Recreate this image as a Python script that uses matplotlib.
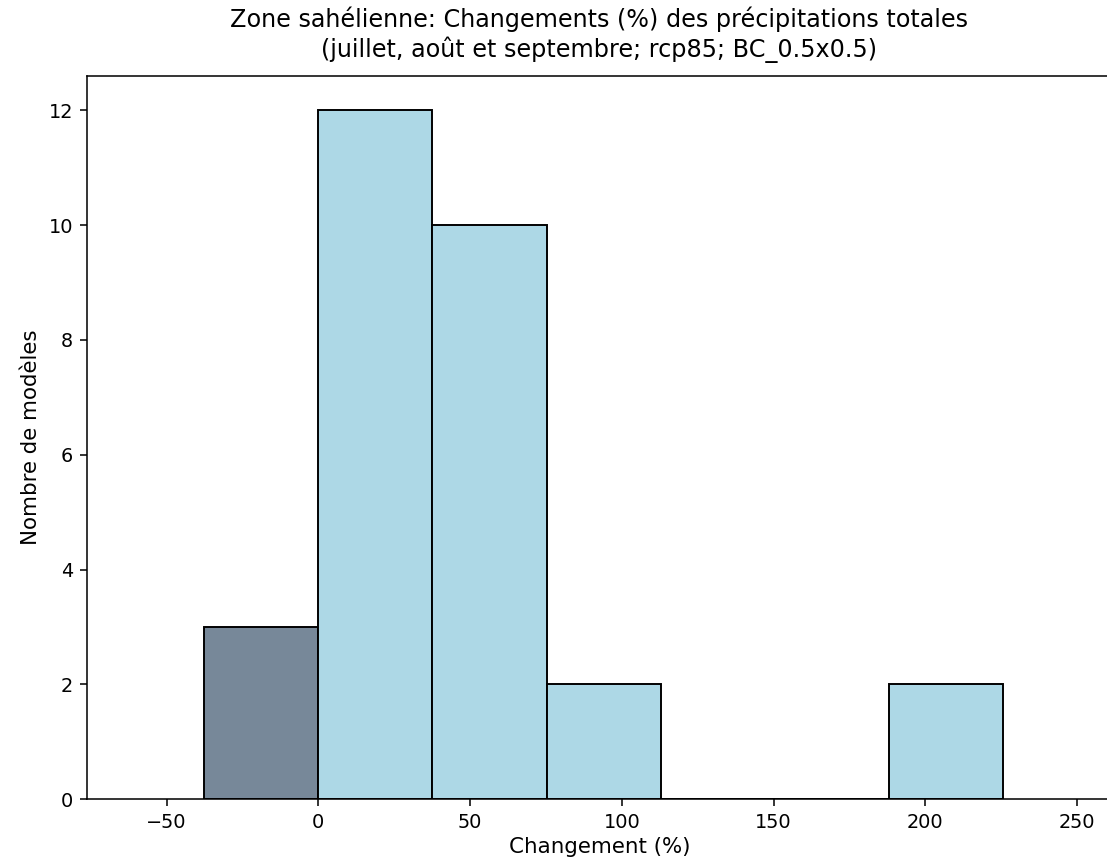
import matplotlib
matplotlib.use('Agg')
import matplotlib.pyplot as plt
import numpy as np

# bin edges (%) and number of models in each bin
bin_edges = [-37.6, 0.0, 37.6, 75.2, 112.8, 150.4, 188.0, 225.6]
counts = [3, 12, 10, 2, 0, 0, 2]

title = ('Zone sahélienne: Changements (%) des précipitations totales\n'
         '(juillet, août et septembre; rcp85; BC_0.5x0.5)')


def main():
    dpi = 139
    fig = plt.figure(figsize=(1107 / dpi, 867 / dpi), dpi=dpi)
    ax = fig.add_axes([0.0783, 0.0784, 0.9262, 0.8339])

    edges = np.array(bin_edges)
    widths = np.diff(edges)
    colors = ['lightslategray' if e < 0 else 'lightblue' for e in edges[:-1]]

    ax.bar(edges[:-1], counts, width=widths, align='edge',
           color=colors, edgecolor='black', linewidth=1.0)

    ax.set_xlim(-76.3, 261.5)
    ax.set_ylim(0, 12.6)
    ax.set_xticks([-50, 0, 50, 100, 150, 200, 250])
    ax.set_yticks([0, 2, 4, 6, 8, 10, 12])

    ax.set_xlabel('Changement (%)', fontsize=11.1, labelpad=3)
    ax.set_ylabel('Nombre de modèles', fontsize=11.1)
    ax.set_title(title, fontsize=12.4, pad=10)

    fig.savefig('out.png', dpi=dpi)


if __name__ == '__main__':
    main()
